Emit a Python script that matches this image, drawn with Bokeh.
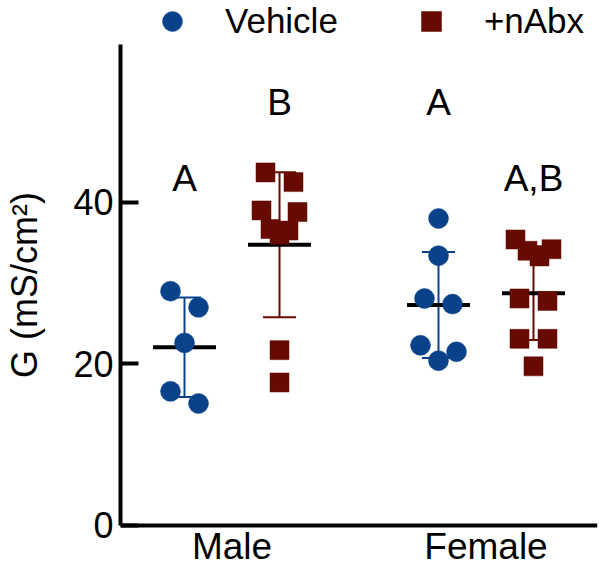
import numpy as np
from bokeh.plotting import figure
from bokeh.models import ColumnDataSource, FactorRange, FixedTicker, Range1d, Legend, LegendItem, Span
from bokeh.core.properties import value
from bokeh.embed import file_html
from bokeh.resources import INLINE

# ---------------- data ----------------
sexes = ["Male", "Female"]
treatments = ["Vehicle", "+nAbx"]
y_ticks = [0, 20, 40]
y_axis_max = 59.5

vehicle_male = [29.0, 27.0, 22.6, 16.6, 15.1]
nabx_male = [43.7, 42.5, 39.0, 38.8, 36.7, 36.5, 36.0, 21.7, 17.7]
vehicle_female = [38.0, 33.4, 28.1, 27.4, 22.3, 21.5, 20.4]
nabx_female = [35.4, 34.2, 34.0, 33.3, 28.1, 27.8, 23.1, 23.1, 19.7]

letters = ["A", "B", "A", "A,B"]
letter_y = [42.9, 52.4, 52.4, 42.9]

# ---------------- style / layout ----------------
FONT = "Liberation Sans"
COLORS = {"Vehicle": "#0a428a", "+nAbx": "#660a02"}
MARKERS = {"Vehicle": "circle", "+nAbx": "square"}
SIZES = {"Vehicle": 20, "+nAbx": 19}
TREAT_OFF = {"Vehicle": -0.187, "+nAbx": 0.187}
PX_PER_CAT = 254.0   # pixels per category unit
PX_PER_Y = 8.08      # pixels per y unit
CAP_HALF = 0.065
MEAN_HALF = 0.124
Y_START = -5.45      # room below the x axis for the category names
Y_END = 64.98
CAT_LABEL_Y = -2.55

groups = [
    ("Male", "Vehicle", vehicle_male),
    ("Male", "+nAbx", nabx_male),
    ("Female", "Vehicle", vehicle_female),
    ("Female", "+nAbx", nabx_female),
]


def swarm_offsets(vals, diam=19.0):
    """Prism-like scatter-dot layout: points that collide vertically are
    spread symmetrically in a row."""
    order = sorted(range(len(vals)), key=lambda i: -vals[i])
    clusters = []
    for i in order:
        if clusters and (vals[clusters[-1][-1]] - vals[i]) * PX_PER_Y < diam:
            clusters[-1].append(i)
        else:
            clusters.append([i])
    offs = [0.0] * len(vals)
    for cl in clusters:
        n = len(cl)
        if n == 1:
            pos = [0.0]
        elif n == 2:
            pos = [-14.0, 14.0]
        else:
            pos = list(np.linspace(-18.0, 18.0, n))
        seq = []
        lo, hi = 0, n - 1
        while lo <= hi:
            seq.append(pos[lo])
            if hi != lo:
                seq.append(pos[hi])
            lo += 1
            hi -= 1
        for idx, p_ in zip(cl, seq):
            offs[idx] = p_ / PX_PER_CAT
    return offs


p = figure(
    width=600, height=569,
    x_range=FactorRange(factors=sexes, range_padding=-0.061, range_padding_units="absolute"),
    y_range=Range1d(Y_START, Y_END),
    x_axis_location=None,
    output_backend="svg", toolbar_location=None,
    min_border_left=120, min_border_right=3, min_border_top=0, min_border_bottom=0,
)
p.outline_line_color = None
p.xgrid.visible = False
p.ygrid.visible = False

eb = dict(x=[], y0=[], y1=[], color=[])
caps = dict(x0=[], x1=[], y=[], color=[])
means = dict(x0=[], x1=[], y=[])
scatter_src = {t: dict(x=[], y=[]) for t in treatments}

for sex, treat, vals in groups:
    arr = np.array(vals)
    m = arr.mean()
    sd = arr.std(ddof=1)
    off = TREAT_OFF[treat]
    col = COLORS[treat]
    eb["x"].append((sex, off)); eb["y0"].append(m - sd); eb["y1"].append(m + sd); eb["color"].append(col)
    for yy in (m - sd, m + sd):
        caps["x0"].append((sex, off - CAP_HALF)); caps["x1"].append((sex, off + CAP_HALF))
        caps["y"].append(yy); caps["color"].append(col)
    means["x0"].append((sex, off - MEAN_HALF)); means["x1"].append((sex, off + MEAN_HALF)); means["y"].append(m)
    jit = swarm_offsets(vals)
    for v, j in zip(vals, jit):
        scatter_src[treat]["x"].append((sex, off + j))
        scatter_src[treat]["y"].append(v)

p.segment(x0="x", y0="y0", x1="x", y1="y1", line_color="color", line_width=2,
          source=ColumnDataSource(eb))
p.segment(x0="x0", y0="y", x1="x1", y1="y", line_color="color", line_width=2,
          source=ColumnDataSource(caps))
p.segment(x0="x0", y0="y", x1="x1", y1="y", line_color="black", line_width=4,
          source=ColumnDataSource(means))

renderers = {}
for t in treatments:
    renderers[t] = p.scatter(x="x", y="y", source=ColumnDataSource(scatter_src[t]),
                             marker=MARKERS[t], size=SIZES[t],
                             fill_color=COLORS[t], line_color=COLORS[t], line_width=0.5)

# significance letters
letter_x = [(sex, TREAT_OFF[treat]) for sex, treat, _ in groups]
p.text(x="x", y="y", text="t", source=ColumnDataSource(dict(x=letter_x, y=letter_y, t=letters)),
       text_align="center", text_baseline="alphabetic",
       text_font=value(FONT), text_font_size="37px", text_color="black")

# x axis: baseline at y = 0 with category names under it
p.add_layout(Span(location=0, dimension="width", line_color="black", line_width=4))
p.text(x="x", y="y", text="t",
       source=ColumnDataSource(dict(x=sexes, y=[CAT_LABEL_Y] * len(sexes), t=sexes)),
       text_align="center", text_baseline="alphabetic",
       text_font=value(FONT), text_font_size="37px", text_color="black")

# y axis
yax = p.yaxis[0]
yax.bounds = (0, y_axis_max)
yax.ticker = FixedTicker(ticks=y_ticks)
yax.axis_line_width = 4
yax.axis_line_color = "black"
yax.minor_tick_line_color = None
yax.major_tick_in = 18
yax.major_tick_out = 0
yax.major_tick_line_width = 4
yax.major_label_standoff = 7
yax.major_label_text_font = FONT
yax.major_label_text_font_size = "36px"
yax.major_label_text_color = "black"
yax.axis_label = "G (mS/cm²)"
yax.axis_label_text_font = FONT
yax.axis_label_text_font_size = "36px"
yax.axis_label_text_font_style = "normal"
yax.axis_label_text_color = "black"
yax.axis_label_standoff = 25

legend = Legend(
    items=[LegendItem(label=t, renderers=[renderers[t]], index=0) for t in treatments],
    orientation="horizontal", location=(27, 523),
    glyph_width=50, glyph_height=50, label_standoff=28, spacing=68,
    padding=0, margin=0, border_line_color=None, background_fill_alpha=0,
    label_text_font=FONT, label_text_font_size="35px", label_text_color="black",
)
p.add_layout(legend, "center")

open("out.html", "w").write(file_html(p, INLINE))
